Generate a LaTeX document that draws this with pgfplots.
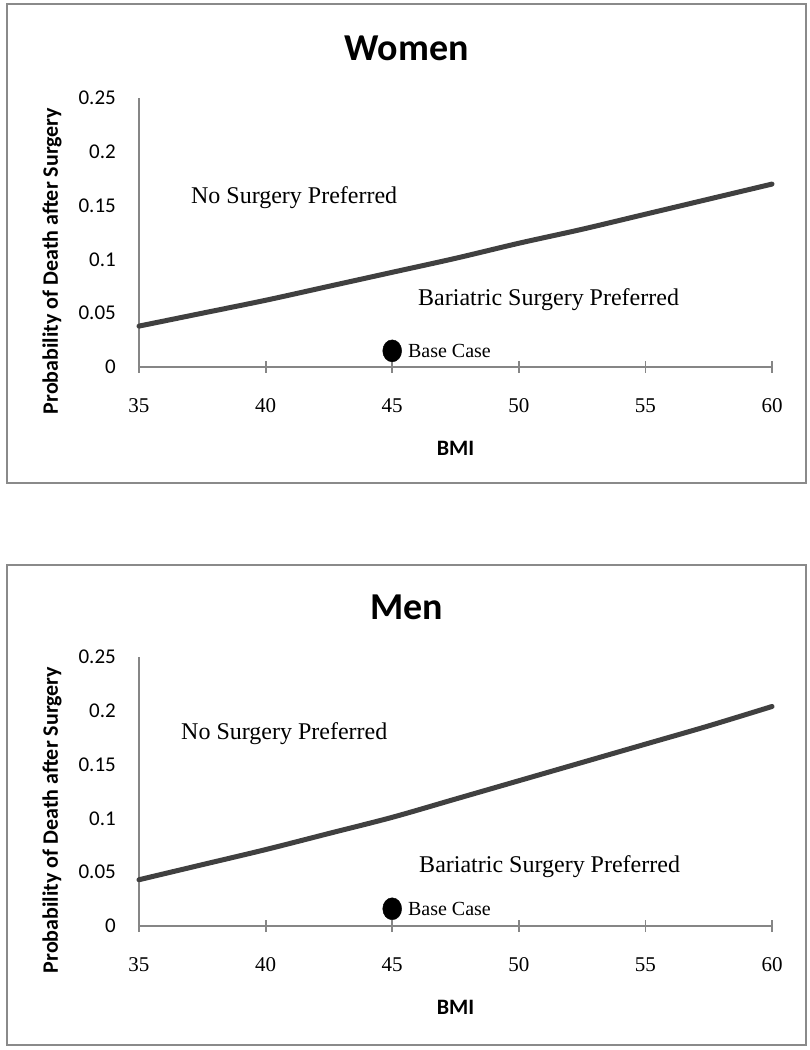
\documentclass[border=0pt]{standalone}
\usepackage{pgfplots}
\pgfplotsset{compat=1.18}
\usepackage{fontspec}
\setmainfont{Liberation Serif}
\newfontfamily\carlito{Carlito}

\definecolor{curvegray}{HTML}{404040}
\definecolor{axisgray}{HTML}{868686}
\definecolor{boxgray}{HTML}{8A8A8A}

\pgfplotsset{
  panel/.style={
    scale only axis,
    width=633pt, height=269pt,
    anchor=south west,
    xmin=35, xmax=60, ymin=0, ymax=0.25,
    clip=false,
    axis x line*=bottom,
    axis y line*=left,
    axis line style={-, draw=axisgray, line width=1.8pt},
    xtick={35,40,45,50,55,60},
    xticklabels={35,40,45,50,55,60},
    ytick={0,0.05,0.1,0.15,0.2,0.25},
    yticklabels={0,0.05,0.1,0.15,0.2,0.25},
    tick align=center,
    major tick length=12pt,
    xtick style={draw=axisgray, line width=1.8pt},
    ytick style={draw=none},
    xticklabel style={font=\fontsize{21}{21}\selectfont, inner sep=0pt, anchor=north,
      text height=15pt, text depth=0pt, yshift=-24pt},
    yticklabel style={font=\carlito\fontsize{21}{21}\selectfont, inner sep=0pt, anchor=east, xshift=-17pt},
    title style={font=\carlito\bfseries\fontsize{38}{38}\selectfont,
      at={(axis description cs:0.423,1)}, anchor=center, yshift=44pt},
    every axis y label/.style={at={(axis description cs:-0.1374,0.394)}, rotate=90,
      anchor=center, font=\carlito\bfseries\fontsize{22}{22}\selectfont},
    every axis x label/.style={at={(axis description cs:0.5,0)}, anchor=center,
      yshift=-81pt, font=\carlito\bfseries\fontsize{22}{22}\selectfont},
    xlabel={BMI},
    ylabel={Probability of Death after Surgery},
  },
  boundary/.style={smooth, draw=curvegray, line width=5pt, line cap=round, no marks},
  basecase/.style={only marks, mark=*, mark size=11pt, mark options={xscale=0.86, fill=black, draw=black}},
}
\tikzset{
  region/.style={anchor=base west, inner sep=0pt, font=\fontsize{24}{24}\selectfont},
  caselabel/.style={anchor=base west, inner sep=0pt, font=\fontsize{20}{20}\selectfont},
}

\begin{document}
\begin{tikzpicture}[x=1pt,y=1pt]
\fill[white] (0,0) rectangle (810,1050);
\draw[boxgray, line width=2.5pt] (7,567) rectangle (806,1046);
\draw[boxgray, line width=2.5pt] (7,5) rectangle (806,485);

% Women
\begin{axis}[panel, at={(139pt,683pt)}, title={Women}]
\addplot[boundary] coordinates {
  (35,0.038) (37.5,0.050) (40,0.062) (42.5,0.075) (45,0.088) (47.5,0.101)
  (50,0.115) (52.5,0.128) (55,0.142) (57.5,0.156) (60,0.170)
};
\addplot[basecase] coordinates {(45,0.015)};
\node[region] at (axis cs:37.05,0.1524) {No Surgery Preferred};
\node[region] at (axis cs:46.02,0.0576) {Bariatric Surgery Preferred};
\node[caselabel] at (axis cs:45.62,0.0088) {Base Case};
\end{axis}

% Men
\begin{axis}[panel, at={(139pt,124pt)}, title={Men}]
\addplot[boundary] coordinates {
  (35,0.043) (37.5,0.057) (40,0.071) (42.5,0.086) (45,0.101) (47.5,0.118)
  (50,0.135) (52.5,0.152) (55,0.169) (57.5,0.186) (60,0.204)
};
\addplot[basecase] coordinates {(45,0.016)};
\node[region] at (axis cs:36.66,0.1735) {No Surgery Preferred};
\node[region] at (axis cs:46.06,0.0494) {Bariatric Surgery Preferred};
\node[caselabel] at (axis cs:45.62,0.0098) {Base Case};
\end{axis}
\end{tikzpicture}
\end{document}
